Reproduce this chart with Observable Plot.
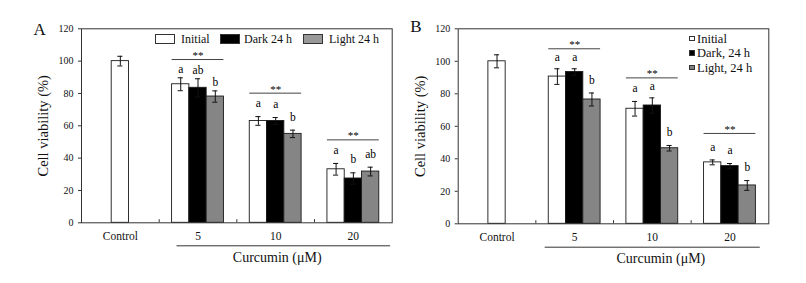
<!DOCTYPE html>
<html><head><meta charset="utf-8">
<script src="https://cdn.jsdelivr.net/npm/d3@7"></script>
<script src="https://cdn.jsdelivr.net/npm/@observablehq/plot@0.6"></script>
<style>
body{margin:0;background:#fff;}
#wrap{position:relative;width:806px;height:283px;font-family:"Liberation Serif","Tinos","Times New Roman","DejaVu Serif",serif;color:#111;}
.panel{position:absolute;top:0;width:403px;height:283px;}
.panel svg{font-family:"Liberation Serif","Tinos","Times New Roman","DejaVu Serif",serif !important;}
.sw{position:absolute;box-sizing:border-box;border:1px solid #333;}
.lt{position:absolute;white-space:pre;line-height:14px;}
</style></head><body><div id="wrap"></div>
<script>
// ---- data ----
const groups = ["Control", "5", "10", "20"];
const seriesA = ["Initial", "Dark 24 h", "Light 24 h"];
const seriesB = ["Initial", "Dark, 24 h", "Light, 24 h"];
const yTicks = [0, 20, 40, 60, 80, 100, 120];

// Panel A
const controlA = 100, controlErrA = 3;
const initialA = [85.7, 63.0, 33.1], initialErrA = [4.0, 2.7, 3.6];
const darkA    = [83.5, 63.0, 27.4], darkErrA    = [5.6, 2.1, 3.5];
const lightA   = [78.1, 55.0, 31.7], lightErrA   = [3.5, 2.3, 2.7];
const lettersInitialA = ["a", "a", "a"];
const lettersDarkA    = ["ab", "a", "b"];
const lettersLightA   = ["b", "b", "ab"];
const sigLevelA = [101, 80.2, 51.3];

// Panel B
const controlB = 100, controlErrB = 4;
const initialB = [90.6, 70.8, 37.8], initialErrB = [4.8, 4.5, 1.5];
const darkB    = [93.4, 72.8, 35.5], darkErrB    = [2.0, 4.7, 1.6];
const lightB   = [76.5, 46.5, 23.6], lightErrB   = [4.0, 1.7, 3.0];
const lettersInitialB = ["a", "a", "a"];
const lettersDarkB    = ["a", "a", "a"];
const lettersLightB   = ["b", "b", "b"];
const sigLevelB = [107.7, 89.8, 55.6];

const fills = ["#ffffff", "#000000", "#858585"];
const BW = 0.2225;   // bar width in group units
const CAP = 0.033;   // half cap width in group units
const SERIF = '"Liberation Serif", "Tinos", "Times New Roman", "DejaVu Serif", serif';

function buildRows(control, controlErr, vals, errs, letters) {
  const rows = [{g: 0, s: -1, v: control, e: controlErr, letter: "", fill: fills[0]}];
  for (let s = 0; s < 3; s++) for (let i = 0; i < 3; i++) {
    rows.push({g: i + 1, s, v: vals[s][i], e: errs[s][i], letter: letters[s][i], fill: fills[s]});
  }
  return rows;
}
const center = d => d.g + 0.5 + (d.s < 0 ? 0 : (d.s - 1) * BW);

function makePanel(cfg) {
  const rows = buildRows(cfg.control, cfg.controlErr, cfg.vals, cfg.errs, cfg.letters);
  const sig = cfg.sig.map((y, i) => ({g: i + 1, y}));
  const maxErr = g => d3.max(rows.filter(r => r.g === g), r => r.v + r.e);
  const letterRows = rows.filter(r => r.s >= 0).map(r => {
    const top = r.v + r.e;
    const lvl = cfg.sig[r.g - 1];
    const gap = (lvl - maxErr(r.g)) < 12 ? 2.8 : 5.8;
    return {...r, ly: Math.min(top + gap, lvl - 7.7)};
  });
  const caps = rows.flatMap(r => [{c: center(r), y: r.v + r.e}, {c: center(r), y: r.v - r.e}]);

  return Plot.plot({
    width: 403, height: 283,
    marginLeft: cfg.ml, marginRight: cfg.mr, marginTop: 28.3, marginBottom: cfg.mb,
    x: {domain: [0, 4], axis: null},
    y: {domain: [0, 120], axis: null},
    style: {fontFamily: SERIF, background: "white", overflow: "visible", color: "#111"},
    marks: [
      Plot.rectY(rows, {x1: d => center(d) - BW / 2, x2: d => center(d) + BW / 2, y: "v", fill: "fill", stroke: "#1a1a1a", strokeWidth: 0.9}),
      Plot.ruleX(rows, {x: center, y1: d => d.v - d.e, y2: d => d.v + d.e, stroke: "#111", strokeWidth: 1}),
      Plot.ruleY(caps, {x1: d => d.c - CAP, x2: d => d.c + CAP, y: "y", stroke: "#111", strokeWidth: 1}),
      Plot.ruleY(sig, {x1: d => d.g + 0.5 - 1.5 * BW, x2: d => d.g + 0.5 + 1.5 * BW, y: "y", stroke: "#444", strokeWidth: 1}),
      Plot.text(sig, {x: d => d.g + 0.5, y: "y", text: () => "**", lineAnchor: "bottom", dy: -0.5, fontSize: 11, fill: "black", fontFamily: SERIF}),
      Plot.text(letterRows, {x: center, y: "ly", text: "letter", lineAnchor: "bottom", fontSize: 11.5, fill: "black", fontFamily: SERIF}),
      Plot.ruleX([1, 2, 3], {y1: 0, y2: 1.9, stroke: "#333"}),
      Plot.frame({stroke: "#333", strokeWidth: 1}),
      Plot.axisY({ticks: yTicks, tickSize: 3, tickPadding: 5, label: null, fontSize: 10, stroke: "#333", fontFamily: SERIF}),
      Plot.axisX({ticks: [0.5, 1.5, 2.5, 3.5], tickFormat: v => groups[Math.floor(v)], tickSize: 0, tickPadding: 9, label: null, fontSize: 11.5, fontFamily: SERIF}),
      Plot.ruleY([0], {x1: cfg.lineX1, x2: cfg.lineX2, dy: cfg.lineDy, stroke: "#333", strokeWidth: 1}),
      Plot.text(["Curcumin (μM)"], {x: cfg.labelX, frameAnchor: "bottom", dy: cfg.labelDy, text: d => d, fontSize: 14, textAnchor: "middle", lineAnchor: "middle", fontFamily: SERIF}),
      Plot.text(["Cell viability (%)"], {frameAnchor: "left", dx: -38, rotate: -90, text: d => d, fontSize: 14.5, textAnchor: "middle", lineAnchor: "middle", fontFamily: SERIF}),
      Plot.text([cfg.letter], {frameAnchor: "top-left", dx: -48, dy: cfg.letterDy, text: d => d, textAnchor: "start", lineAnchor: "bottom", fontSize: 17, fontFamily: SERIF})
    ]
  });
}

const wrap = document.getElementById("wrap");

function addPanel(left, cfg, legendFn) {
  const div = document.createElement("div");
  div.className = "panel";
  div.style.left = left + "px";
  div.appendChild(makePanel(cfg));
  legendFn(div);
  wrap.appendChild(div);
}

function sw(div, x, y, w, h, fill) {
  const e = document.createElement("div");
  e.className = "sw";
  Object.assign(e.style, {left: x + "px", top: y + "px", width: w + "px", height: h + "px", background: fill});
  div.appendChild(e);
}
function lt(div, x, cy, text, size) {
  const e = document.createElement("div");
  e.className = "lt";
  e.textContent = text;
  Object.assign(e.style, {left: x + "px", top: (cy - 7) + "px", fontSize: size + "px"});
  div.appendChild(e);
}

addPanel(0, {
  control: controlA, controlErr: controlErrA,
  vals: [initialA, darkA, lightA], errs: [initialErrA, darkErrA, lightErrA],
  letters: [lettersInitialA, lettersDarkA, lettersLightA], sig: sigLevelA,
  ml: 81, mr: 11.3, mb: 60.7, lineX1: 1.23, lineX2: 3.98, lineDy: 23, labelX: 2.52, labelDy: 34.5,
  letter: "A", letterDy: 5.7
}, div => {
  const legFills = ["#ffffff", "#000000", "#999999"];
  const bx = [155, 220, 303], tx = [181, 244, 329];
  seriesA.forEach((s, i) => { sw(div, bx[i], 34.3, 20, 9.5, legFills[i]); lt(div, tx[i], 39, s, 12); });
});

addPanel(403, {
  control: controlB, controlErr: controlErrB,
  vals: [initialB, darkB, lightB], errs: [initialErrB, darkErrB, lightErrB],
  letters: [lettersInitialB, lettersDarkB, lettersLightB], sig: sigLevelB,
  ml: 54.7, mr: 37.7, mb: 59.7, lineX1: 1.12, lineX2: 3.89, lineDy: 23.4, labelX: 2.61, labelDy: 35,
  letter: "B", letterDy: 3.4
}, div => {
  const legFills = ["#ffffff", "#000000", "#808080"];
  const cy = [38.5, 53, 67.7];
  seriesB.forEach((s, i) => { sw(div, 286, cy[i] - 2.8, 5.6, 5.6, legFills[i]); lt(div, 294, cy[i], s, 12.5); });
});
</script>
</body></html>
